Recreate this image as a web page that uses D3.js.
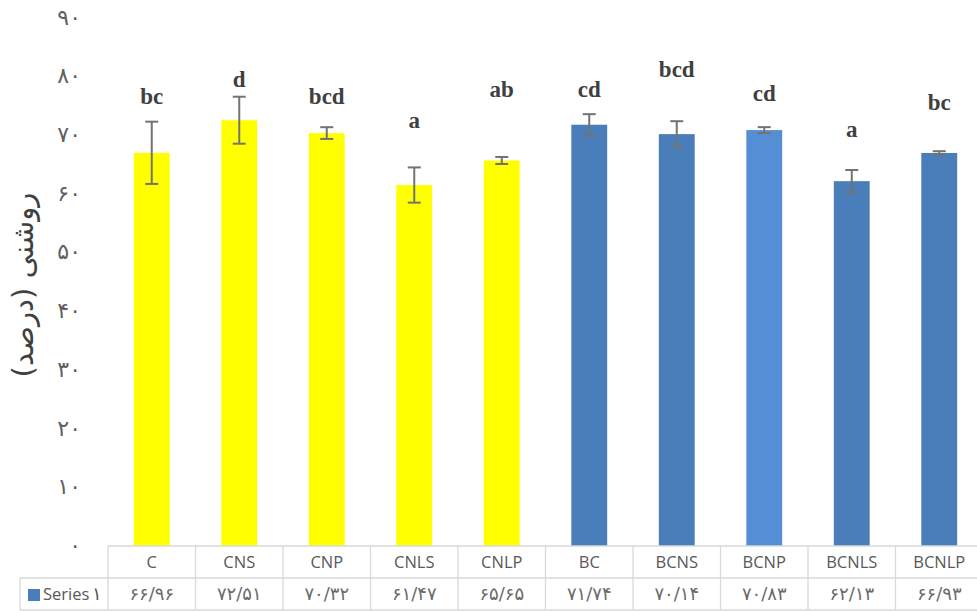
<!DOCTYPE html>
<html>
<head>
<meta charset="utf-8">
<script src="https://cdn.jsdelivr.net/npm/d3@7"></script>
<style>
  html, body { margin: 0; padding: 0; background: #fff; }
  svg { display: block; }
</style>
</head>
<body>
<svg id="chart" width="977" height="611"></svg>
<script>
// Treatments along the x axis
const categories = ["C", "CNS", "CNP", "CNLS", "CNLP", "BC", "BCNS", "BCNP", "BCNLS", "BCNLP"];
// Brightness (%) per treatment
const values = [66.96, 72.51, 70.32, 61.47, 65.65, 71.74, 70.14, 70.83, 62.13, 66.93];
// Half-width of the error bars (%)
const errors = [5.3, 4.0, 1.0, 3.0, 0.6, 1.8, 2.2, 0.5, 1.9, 0.3];
// Significance letters and the level (%) their baseline sits at
const letters = ["bc", "d", "bcd", "a", "ab", "cd", "bcd", "cd", "a", "bc"];
const letterLevels = [75.3, 78.2, 75.2, 71.2, 76.4, 76.5, 79.9, 75.8, 69.7, 74.3];
// Value axis ticks
const yTicks = [0, 10, 20, 30, 40, 50, 60, 70, 80, 90];
const seriesName = "Series\u06F1";
const yTitle = "روشنی (درصد)";

// Persian digits, slash as the decimal separator
const faDigits = "۰۱۲۳۴۵۶۷۸۹";
const toFa = s => String(s).replace(/[0-9]/g, d => faDigits[+d]);
const fmtValue = v => toFa(v.toFixed(2).replace(".", "/"));

const svg = d3.select("#chart");
const tableLeft = 108, tableRight = 983, legendLeft = 20;
const rowTop = 546, rowMid = 578, rowBottom = 610;

const x = d3.scaleBand().domain(categories).range([tableLeft, tableRight]).paddingInner(0).paddingOuter(0);
const y = d3.scaleLinear().domain([0, 90]).range([rowTop, 17.5]);
const barW = x.bandwidth() * 0.41;

const barColor = c => c.startsWith("B") ? (c === "BCNP" ? "#558ed5" : "#4a7ebb") : "#ffff00";
const textGray = "#595959";
const sans = "'Open Sans', 'DejaVu Sans', sans-serif";
const faFont = "'DejaVu Sans', sans-serif";

// Value axis: labels only, no line or tick marks
const yAxis = d3.axisLeft(y).tickValues(yTicks).tickSize(0).tickPadding(0).tickFormat(d => toFa(d));
const gy = svg.append("g").attr("transform", "translate(81,0)").call(yAxis);
gy.select(".domain").remove();
gy.selectAll("text")
  .attr("fill", "#606060")
  .attr("font-family", faFont)
  .attr("font-size", 22)
  .attr("dy", "0.3em");

// Axis title, rotated
const title = svg.append("text")
  .attr("transform", `translate(33,${(190 + 380) / 2}) rotate(-90)`)
  .attr("text-anchor", "middle")
  .attr("direction", "rtl")
  .attr("font-family", faFont)
  .attr("font-size", 22)
  .attr("fill", "#404040")
  .text(yTitle);
const tw = title.node().getBBox().width;
if (tw > 0) title.attr("font-size", 22 * 185 / tw);

// Bars
svg.append("g").selectAll("rect").data(categories).join("rect")
  .attr("x", c => x(c) + (x.bandwidth() - barW) / 2)
  .attr("width", barW)
  .attr("y", (c, i) => y(values[i]))
  .attr("height", (c, i) => y(0) - y(values[i]))
  .attr("fill", c => barColor(c));

// Error bars
const eg = svg.append("g").attr("stroke", "#737373").attr("stroke-width", 2).attr("fill", "none");
categories.forEach((c, i) => {
  const cx = x(c) + x.bandwidth() / 2;
  const hi = y(values[i] + errors[i]), lo = y(values[i] - errors[i]);
  eg.append("line").attr("x1", cx).attr("x2", cx).attr("y1", hi).attr("y2", lo);
  eg.append("line").attr("x1", cx - 6.5).attr("x2", cx + 6.5).attr("y1", hi).attr("y2", hi);
  eg.append("line").attr("x1", cx - 6.5).attr("x2", cx + 6.5).attr("y1", lo).attr("y2", lo);
});

// Significance letters
svg.append("g").selectAll("text").data(categories).join("text")
  .attr("x", c => x(c) + x.bandwidth() / 2)
  .attr("y", (c, i) => y(letterLevels[i]))
  .attr("text-anchor", "middle")
  .attr("font-family", "'Liberation Serif', 'Times New Roman', serif")
  .attr("font-weight", "bold")
  .attr("font-size", 23)
  .attr("fill", "#404040")
  .text((c, i) => letters[i]);

// Data table under the plot
const grid = svg.append("g").attr("stroke", "#d9d9d9").attr("stroke-width", 1.3);
grid.append("line").attr("x1", tableLeft).attr("x2", tableRight).attr("y1", rowTop).attr("y2", rowTop);
grid.append("line").attr("x1", legendLeft).attr("x2", tableRight).attr("y1", rowMid).attr("y2", rowMid);
grid.append("line").attr("x1", legendLeft).attr("x2", tableRight).attr("y1", rowBottom).attr("y2", rowBottom);
grid.append("line").attr("x1", legendLeft).attr("x2", legendLeft).attr("y1", rowMid).attr("y2", rowBottom);
categories.forEach(c => {
  grid.append("line").attr("x1", x(c)).attr("x2", x(c)).attr("y1", rowTop).attr("y2", rowBottom);
});

svg.append("g").selectAll("text").data(categories).join("text")
  .attr("x", c => x(c) + x.bandwidth() / 2)
  .attr("y", (rowTop + rowMid) / 2)
  .attr("dy", "0.36em")
  .attr("text-anchor", "middle")
  .attr("font-family", sans)
  .attr("font-size", 16.5)
  .attr("fill", textGray)
  .text(c => c);

svg.append("g").selectAll("text").data(categories).join("text")
  .attr("x", c => x(c) + x.bandwidth() / 2)
  .attr("y", (rowMid + rowBottom) / 2)
  .attr("dy", "0.33em")
  .attr("text-anchor", "middle")
  .attr("font-family", faFont)
  .attr("font-size", 18)
  .attr("fill", "#6a6a6a")
  .text((c, i) => fmtValue(values[i]));

// Legend key in the table's row header
svg.append("rect").attr("x", 28).attr("y", 589).attr("width", 12).attr("height", 12).attr("fill", "#4a7ebb");
svg.append("text")
  .attr("x", 43).attr("y", (rowMid + rowBottom) / 2).attr("dy", "0.36em")
  .attr("font-family", sans).attr("font-size", 16.5).attr("fill", textGray)
  .text("Series");
svg.append("text")
  .attr("x", 92).attr("y", (rowMid + rowBottom) / 2).attr("dy", "0.33em")
  .attr("font-family", faFont).attr("font-size", 18).attr("fill", textGray)
  .text(seriesName.slice(6));
</script>
</body>
</html>
